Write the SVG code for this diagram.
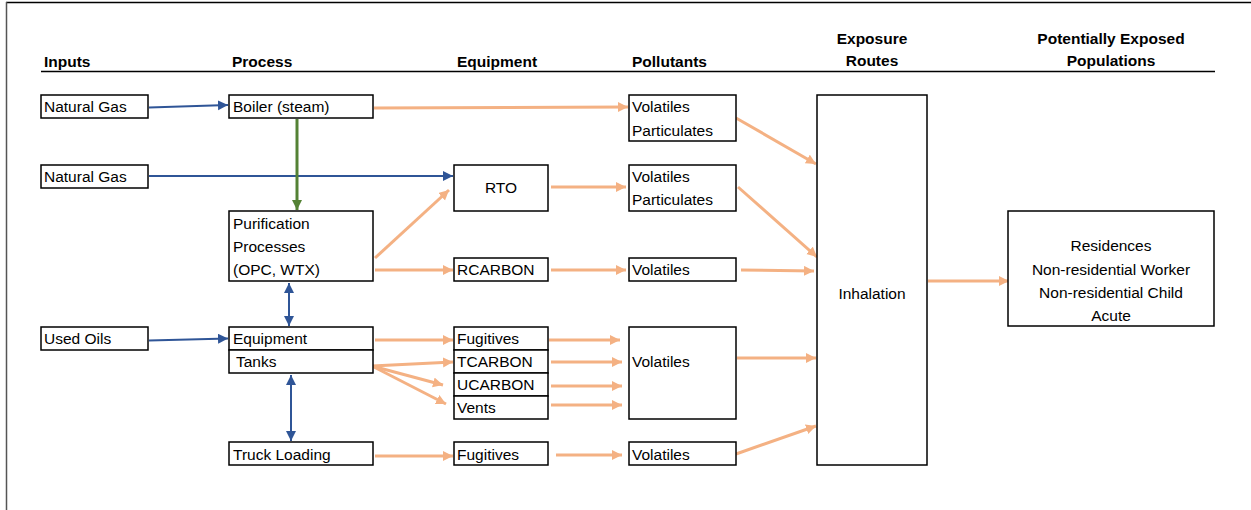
<svg xmlns="http://www.w3.org/2000/svg" width="1251" height="510" viewBox="0 0 1251 510">
<style>
.box{fill:#fff;stroke:#000;stroke-width:1.5}
.t{font-family:"Liberation Sans",Arial,sans-serif;font-size:15.5px;fill:#000}
.h{font-family:"Liberation Sans",Arial,sans-serif;font-size:15.5px;font-weight:bold;fill:#000}
.c{text-anchor:middle}
.o{stroke:#F4B183;stroke-width:3;fill:none;marker-end:url(#ao)}
.b{stroke:#2F5597;stroke-width:2;fill:none;marker-end:url(#ab)}
.bb{stroke:#2F5597;stroke-width:2;fill:none;marker-end:url(#ab);marker-start:url(#abs)}
.g{stroke:#548235;stroke-width:3;fill:none;marker-end:url(#ag)}
</style>
<defs>
<marker id="ao" markerUnits="userSpaceOnUse" markerWidth="12" markerHeight="12" refX="10" refY="5" orient="auto"><path d="M0,0 L10,5 L0,10 z" fill="#F4B183"/></marker>
<marker id="ab" markerUnits="userSpaceOnUse" markerWidth="12" markerHeight="12" refX="10" refY="5" orient="auto"><path d="M0,0 L10,5 L0,10 z" fill="#2F5597"/></marker>
<marker id="abs" markerUnits="userSpaceOnUse" markerWidth="12" markerHeight="12" refX="0" refY="5" orient="auto"><path d="M10,0 L0,5 L10,10 z" fill="#2F5597"/></marker>
<marker id="ag" markerUnits="userSpaceOnUse" markerWidth="12" markerHeight="12" refX="10" refY="5" orient="auto"><path d="M0,0 L10,5 L0,10 z" fill="#548235"/></marker>
</defs>
<rect width="1251" height="510" fill="#fff"/>
<line x1="6" y1="2.5" x2="1251" y2="2.5" stroke="#000" stroke-width="1.5"/>
<line x1="6.5" y1="2" x2="6.5" y2="510" stroke="#555" stroke-width="1.5"/>
<g id="headers">
<text class="h" x="44" y="67">Inputs</text>
<text class="h" x="232" y="67">Process</text>
<text class="h" x="457" y="67">Equipment</text>
<text class="h" x="632" y="67">Pollutants</text>
<text class="h c" x="872" y="44">Exposure</text>
<text class="h c" x="872" y="66">Routes</text>
<text class="h c" x="1111" y="44">Potentially Exposed</text>
<text class="h c" x="1111" y="66">Populations</text>
<line x1="41" y1="71.5" x2="1215" y2="71.5" stroke="#000" stroke-width="1.5"/>
</g>
<g id="connectors">
<line class="b" x1="149" y1="107.5" x2="228" y2="105"/>
<line class="b" x1="149" y1="176" x2="453" y2="176"/>
<line class="g" x1="297" y1="119" x2="297" y2="210"/>
<line class="o" x1="374" y1="108" x2="628" y2="107"/>
<line class="o" x1="375" y1="258" x2="449" y2="190"/>
<line class="o" x1="375" y1="270" x2="453" y2="270"/>
<line class="o" x1="551" y1="187" x2="626" y2="187"/>
<line class="o" x1="551" y1="270" x2="626" y2="270"/>
<line class="o" x1="736" y1="118" x2="816" y2="164"/>
<line class="o" x1="738" y1="187" x2="817" y2="257"/>
<line class="o" x1="741" y1="270" x2="814" y2="271"/>
<line class="o" x1="737" y1="358" x2="816" y2="358"/>
<line class="o" x1="736" y1="454" x2="816" y2="426"/>
<line class="o" x1="928" y1="281" x2="1009" y2="281"/>
<line class="bb" x1="289" y1="283" x2="289" y2="326"/>
<line class="b" x1="149" y1="340.5" x2="228" y2="338.5"/>
<line class="bb" x1="291" y1="375" x2="291" y2="441"/>
<line class="o" x1="375" y1="340" x2="453" y2="340"/>
<line class="o" x1="372" y1="366" x2="453" y2="362"/>
<line class="o" x1="372" y1="366" x2="443" y2="385"/>
<line class="o" x1="372" y1="366" x2="446" y2="404"/>
<line class="o" x1="549" y1="340" x2="620" y2="340"/>
<line class="o" x1="551" y1="362" x2="622" y2="362"/>
<line class="o" x1="551" y1="386" x2="622" y2="386"/>
<line class="o" x1="551" y1="405" x2="622" y2="405"/>
<line class="o" x1="375" y1="456" x2="453" y2="456"/>
<line class="o" x1="556" y1="455" x2="622" y2="455"/>
</g>
<g id="natural-gas-1"><rect class="box" x="41" y="95" width="107" height="23"/><text class="t" x="44" y="112">Natural Gas</text></g>
<g id="boiler"><rect class="box" x="229" y="95" width="144" height="23"/><text class="t" x="233" y="112">Boiler (steam)</text></g>
<g id="natural-gas-2"><rect class="box" x="41" y="165" width="107" height="23"/><text class="t" x="44" y="182">Natural Gas</text></g>
<g id="rto"><rect class="box" x="454" y="165" width="94" height="46"/><text class="t c" x="501" y="193">RTO</text></g>
<g id="pollutants-1"><rect class="box" x="629" y="95" width="107" height="46"/><text class="t" x="632" y="112">Volatiles</text><text class="t" x="632" y="136">Particulates</text></g>
<g id="pollutants-2"><rect class="box" x="629" y="165" width="107" height="46"/><text class="t" x="632" y="182">Volatiles</text><text class="t" x="632" y="205">Particulates</text></g>
<g id="purification"><rect class="box" x="229" y="211" width="144" height="70"/><text class="t" x="233" y="229">Purification</text><text class="t" x="233" y="252">Processes</text><text class="t" x="233" y="275">(OPC, WTX)</text></g>
<g id="rcarbon"><rect class="box" x="454" y="258" width="94" height="23"/><text class="t" x="457" y="275">RCARBON</text></g>
<g id="pollutants-3"><rect class="box" x="629" y="258" width="107" height="23"/><text class="t" x="632" y="275">Volatiles</text></g>
<g id="inhalation"><rect class="box" x="817" y="95" width="110" height="370"/><text class="t c" x="872" y="299">Inhalation</text></g>
<g id="populations"><rect class="box" x="1008" y="211" width="206" height="115"/><text class="t c" x="1111" y="251">Residences</text><text class="t c" x="1111" y="275">Non-residential Worker</text><text class="t c" x="1111" y="298">Non-residential Child</text><text class="t c" x="1111" y="321">Acute</text></g>
<g id="used-oils"><rect class="box" x="41" y="327" width="107" height="23"/><text class="t" x="44" y="344">Used Oils</text></g>
<g id="equipment"><rect class="box" x="229" y="327" width="144" height="23"/><text class="t" x="233" y="344">Equipment</text></g>
<g id="tanks"><rect class="box" x="229" y="350" width="144" height="23"/><text class="t" x="236" y="367">Tanks</text></g>
<g id="fugitives-1"><rect class="box" x="454" y="327" width="94" height="23"/><text class="t" x="457" y="344">Fugitives</text></g>
<g id="tcarbon"><rect class="box" x="454" y="350" width="94" height="23"/><text class="t" x="457" y="367">TCARBON</text></g>
<g id="ucarbon"><rect class="box" x="454" y="373" width="94" height="23"/><text class="t" x="457" y="390">UCARBON</text></g>
<g id="vents"><rect class="box" x="454" y="396" width="94" height="23"/><text class="t" x="457" y="413">Vents</text></g>
<g id="pollutants-4"><rect class="box" x="629" y="327" width="107" height="92"/><text class="t" x="632" y="367">Volatiles</text></g>
<g id="truck-loading"><rect class="box" x="229" y="442" width="144" height="23"/><text class="t" x="233" y="460">Truck Loading</text></g>
<g id="fugitives-2"><rect class="box" x="454" y="442" width="94" height="23"/><text class="t" x="457" y="460">Fugitives</text></g>
<g id="pollutants-5"><rect class="box" x="629" y="442" width="107" height="23"/><text class="t" x="632" y="460">Volatiles</text></g>
</svg>
